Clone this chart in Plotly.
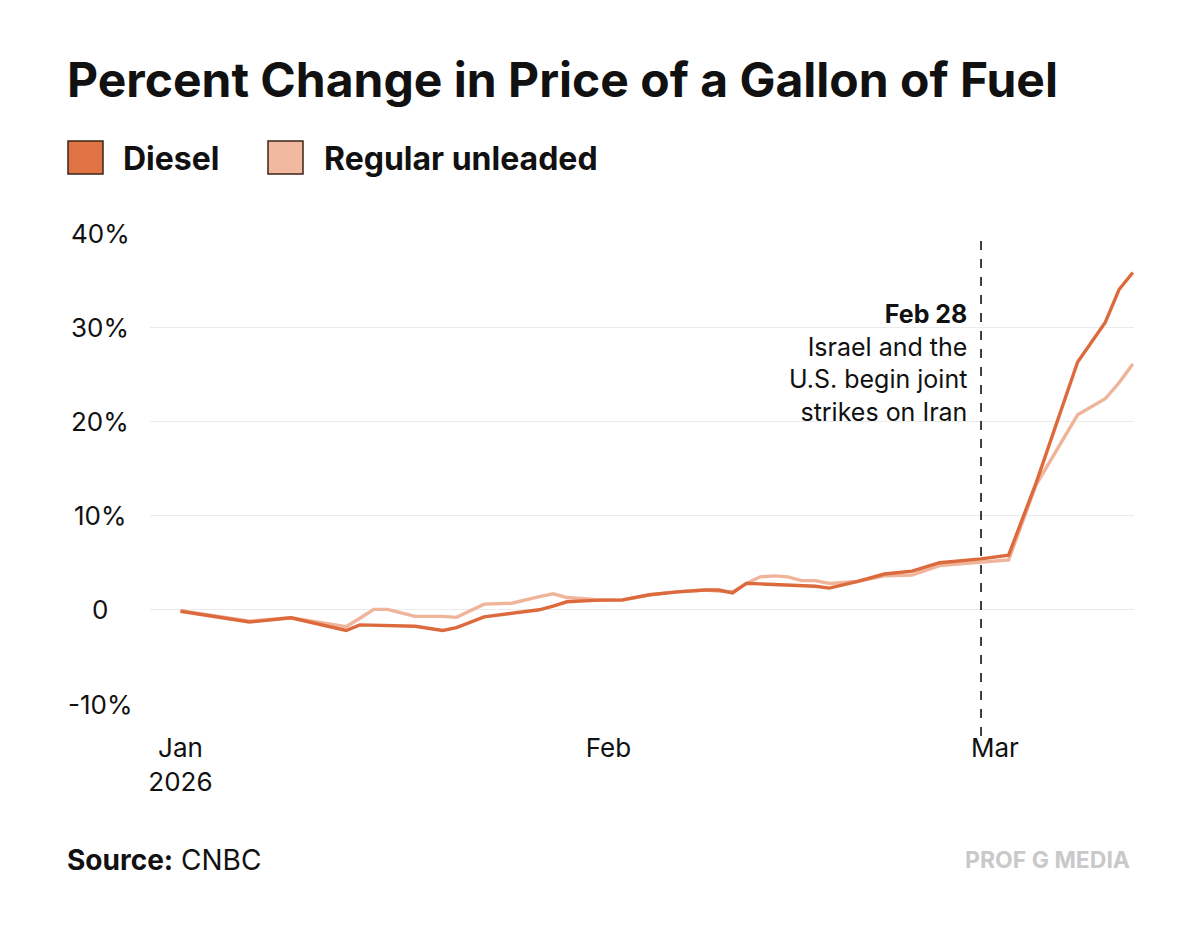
import plotly.graph_objects as go

# ---- data ----
dates = [
    "2026-01-01", "2026-01-06", "2026-01-09", "2026-01-13", "2026-01-14",
    "2026-01-15", "2026-01-16", "2026-01-18", "2026-01-20", "2026-01-21",
    "2026-01-23", "2026-01-25", "2026-01-27", "2026-01-28", "2026-01-29",
    "2026-01-31", "2026-02-02", "2026-02-04", "2026-02-06", "2026-02-08",
    "2026-02-09", "2026-02-10", "2026-02-11", "2026-02-12", "2026-02-13",
    "2026-02-14", "2026-02-15", "2026-02-16", "2026-02-17", "2026-02-19",
    "2026-02-21", "2026-02-23", "2026-02-25", "2026-02-28", "2026-03-02",
    "2026-03-04", "2026-03-07", "2026-03-09", "2026-03-10", "2026-03-11",
]
diesel = [
    -0.15, -1.3, -0.85, -2.2, -1.6,
    -1.65, -1.7, -1.75, -2.2, -1.9,
    -0.75, -0.4, 0.0, 0.4, 0.85,
    1.0, 1.05, 1.6, 1.9, 2.1,
    2.1, 1.8, 2.8, 2.75, 2.7,
    2.65, 2.6, 2.5, 2.3, 3.0,
    3.8, 4.1, 5.0, 5.4, 5.8,
    13.5, 26.3, 30.5, 34.0, 35.8,
]
regular = [
    -0.1, -1.2, -0.85, -1.8, -0.9,
    0.05, 0.05, -0.7, -0.7, -0.8,
    0.6, 0.7, 1.4, 1.7, 1.3,
    1.1, 1.0, 1.6, 1.9, 2.1,
    2.0, 1.9, 2.8, 3.5, 3.6,
    3.5, 3.1, 3.1, 2.8, 3.0,
    3.6, 3.7, 4.7, 5.1, 5.3,
    13.3, 20.7, 22.4, 24.1, 26.1,
]
series_names = ["Diesel", "Regular unleaded"]
y_tickvals = [-10, 0, 10, 20, 30, 40]
y_ticktext = ["-10%", "0", "10%", "20%", "30%", "40%"]
x_tickvals = ["2026-01-01", "2026-02-01", "2026-03-01"]
x_ticktext = ["Jan<br>2026", "Feb", "Mar"]
event_date = "2026-02-28"
event_text = "<b>Feb 28</b><br>Israel and the<br>U.S. begin joint<br>strikes on Iran"

DIESEL_C = "#dd6a3d"
REGULAR_C = "#f0b49b"
FONT = "Inter, Lato, 'Noto Sans', sans-serif"

fig = go.Figure()
fig.add_trace(go.Scatter(x=dates, y=regular, mode="lines", name=series_names[1],
                         line=dict(color=REGULAR_C, width=3.4), showlegend=False))
fig.add_trace(go.Scatter(x=dates, y=diesel, mode="lines", name=series_names[0],
                         line=dict(color=DIESEL_C, width=3.4), showlegend=False))

# page offset of the figure inside the browser page
OFF = 8
W, H = 1184, 920
# plot area in reference-screenshot pixels
L, R, T, B = 150, 1134, 233, 704
def px(xp):
    return (xp - L) / (R - L)
def py(yp):
    return (B - yp) / (B - T)

shapes = [
    dict(type="line", xref="x", yref="paper", x0=event_date, x1=event_date,
         y0=py(736), y1=1.0, line=dict(color="#111", width=1.6, dash="dash")),
    dict(type="rect", xref="paper", yref="paper", x0=px(68), x1=px(103),
         y0=py(174), y1=py(141), fillcolor="#e07444", line=dict(color="#3a2418", width=1.5)),
    dict(type="rect", xref="paper", yref="paper", x0=px(268), x1=px(303),
         y0=py(174), y1=py(141), fillcolor="#f2b9a1", line=dict(color="#3a2418", width=1.5)),
]

annotations = [
    dict(text="<b>" + series_names[0] + "</b>", xref="paper", yref="paper",
         x=px(121), y=py(158), xanchor="left", yanchor="middle", showarrow=False,
         font=dict(family=FONT, size=32, color="#111")),
    dict(text="<b>" + series_names[1] + "</b>", xref="paper", yref="paper",
         x=px(322), y=py(158), xanchor="left", yanchor="middle", showarrow=False,
         font=dict(family=FONT, size=32, color="#111")),
    dict(text=event_text, xref="x", yref="paper", x=event_date, xshift=-12,
         y=py(297), xanchor="right", yanchor="top", align="right", showarrow=False,
         font=dict(family=FONT, size=25, color="#111")),
    dict(text="<b>Source:</b> CNBC", xref="paper", yref="paper",
         x=px(65), y=py(860), xanchor="left", yanchor="middle", showarrow=False,
         font=dict(family=FONT, size=28, color="#111")),
    dict(text="<b>PROF G MEDIA</b>", xref="paper", yref="paper",
         x=px(1132), y=py(860), xanchor="right", yanchor="middle", showarrow=False,
         font=dict(family="Inter, sans-serif", size=23, color="#c9c9c9")),
]
# y tick labels, centred in the left gutter, placed through the y scale
for v, t in zip(y_tickvals, y_ticktext):
    annotations.append(dict(text=t, xref="paper", yref="y", x=px(100), y=v,
                            xanchor="center", yanchor="middle", showarrow=False,
                            font=dict(family=FONT, size=26, color="#111")))

fig.update_layout(
    width=W, height=H,
    margin=dict(l=L - OFF, r=W - (R - OFF), t=T - OFF, b=H - (B - OFF)),
    paper_bgcolor="white", plot_bgcolor="white",
    title=dict(text="<b>Percent Change in Price of a Gallon of Fuel</b>",
               xref="container", yref="container", x=(67 - OFF) / W,
               y=1 - (80 - OFF) / H, xanchor="left", yanchor="middle",
               font=dict(family=FONT, size=48, color="#111")),
    shapes=shapes, annotations=annotations,
    xaxis=dict(type="date", range=["2025-12-29 19:00", "2026-03-11 02:00"],
               tickvals=x_tickvals, ticktext=x_ticktext, showgrid=False,
               zeroline=False, showline=False, ticks="outside", ticklen=21,
               tickcolor="rgba(0,0,0,0)",
               tickfont=dict(family=FONT, size=26, color="#111")),
    yaxis=dict(range=[-10, 40], tickvals=y_tickvals, showticklabels=False,
               showgrid=True, gridcolor="#ebebeb", gridwidth=1.2, zeroline=False,
               showline=False, ticks=""),
)

fig.write_html("out.html")
